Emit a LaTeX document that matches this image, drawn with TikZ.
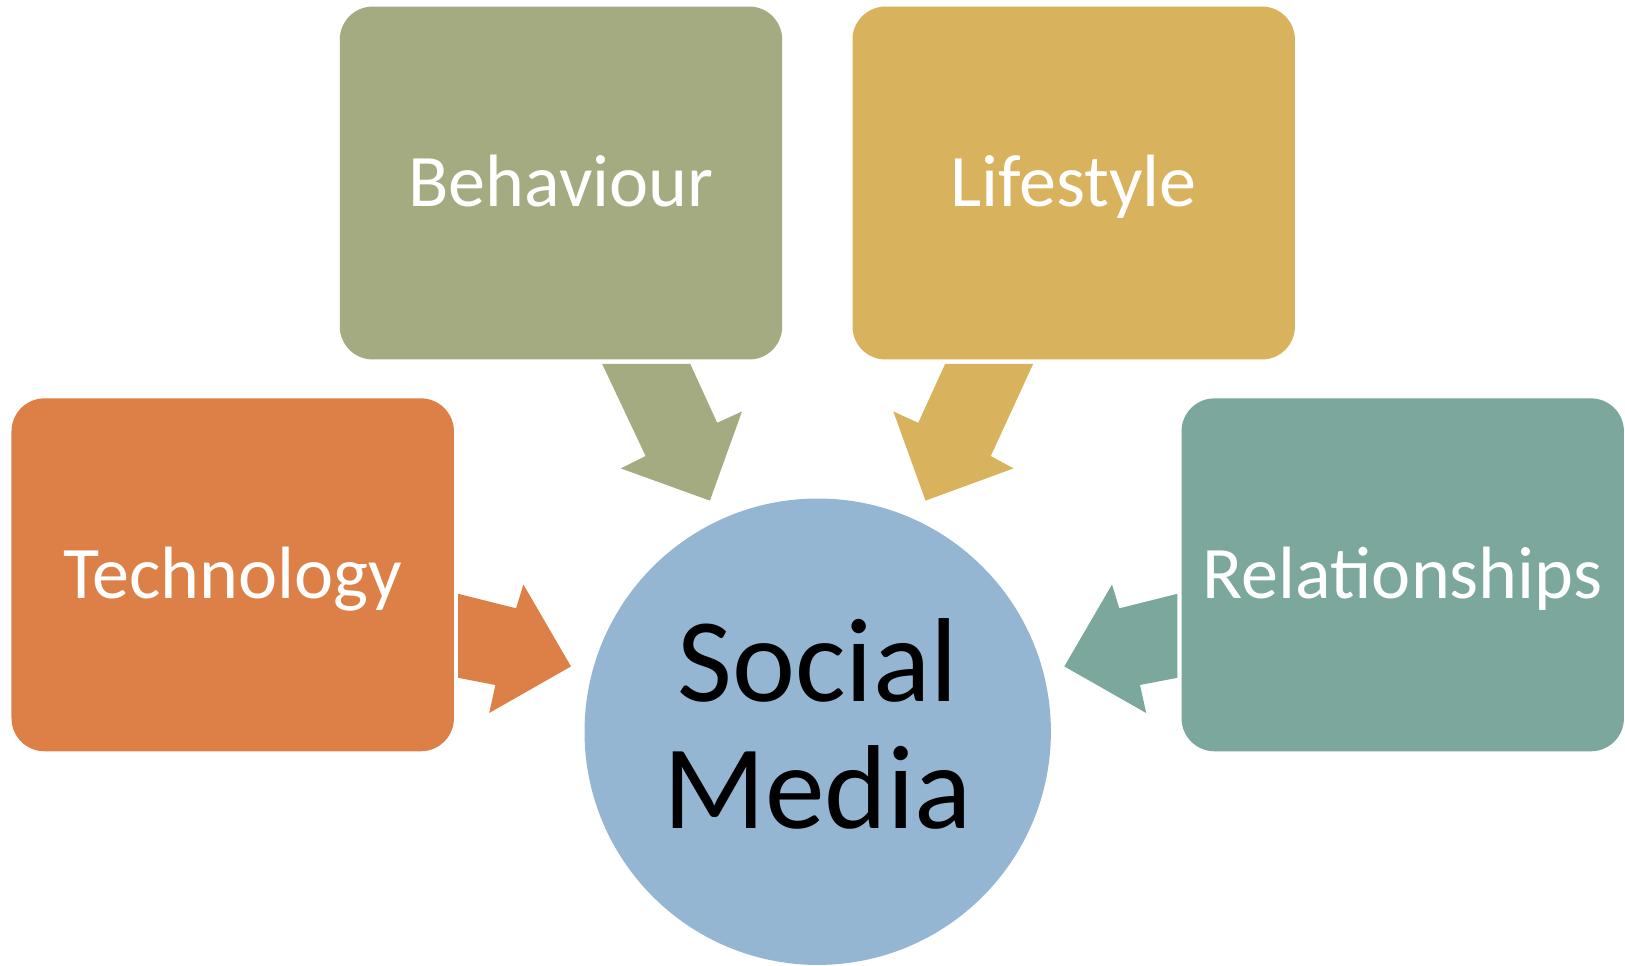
\documentclass[tikz,border=0pt]{standalone}
\usepackage{fontspec}
\setmainfont{Carlito}
\usetikzlibrary{positioning, calc}
\definecolor{techorange}{HTML}{DD8047}
\definecolor{behavolive}{HTML}{A5AB81}
\definecolor{lifegold}{HTML}{D8B25C}
\definecolor{relteal}{HTML}{7BA79D}
\definecolor{mediablue}{HTML}{94B6D2}

\begin{document}
\begin{tikzpicture}[x=0.02cm, y=-0.02cm,
    topic/.style={rectangle, rounded corners=0.66cm, minimum width=8.85cm, minimum height=7.06cm,
      text=white, font=\fontsize{42.2}{50}\selectfont, text height=0.95cm, text depth=0pt, inner sep=0pt},
    hubtext/.style={font=\fontsize{68}{80}\selectfont, anchor=base, inner sep=0pt}]
    \useasboundingbox (0,0) rectangle (1625,965);

    % Centre
    \node[circle, fill=mediablue, minimum size=9.33cm, inner sep=0pt] (hub) at (817.7,731.7) {};
    \node[hubtext] (social) at ($(hub.center)+(0,-30)$) {Social};
    \node[hubtext] (media) at ($(hub.center)+(0,97)$) {Media};

    % Topics
    \node[topic, fill=techorange] (tech) at (232.7,574.8) {Technology};
    \node[topic, fill=behavolive] (behav) at (561,183) {Behaviour};
    \node[topic, fill=lifegold] (life) at (1073.7,183) {Lifestyle};
    \node[topic, fill=relteal] (rel) at (1402.7,574.8) {Relationships};

    % Block arrows
    \fill[techorange] (458.1,593.8) -- (516.1,608.3) -- (523.4,584.5) -- (571.0,666.4)
      -- (489.2,713) -- (495.4,685) -- (458.1,677.8) -- cycle;
    \fill[relteal] (1177.3,593.8) -- (1119.3,608.3) -- (1112,584.5) -- (1064.3,666.4)
      -- (1146.2,713) -- (1140,685) -- (1177.3,677.8) -- cycle;
    \fill[behavolive] (602.1,363.8) -- (690.2,363.8) -- (717.2,422.8) -- (742,411.4)
      -- (709.9,500.6) -- (620.8,468.4) -- (645.6,456) -- cycle;
    \fill[lifegold] (1033.2,363.8) -- (945.2,363.8) -- (918.2,422.8) -- (893.3,411.4)
      -- (925.5,500.6) -- (1013.5,468.4) -- (990.8,456) -- cycle;
\end{tikzpicture}
\end{document}
